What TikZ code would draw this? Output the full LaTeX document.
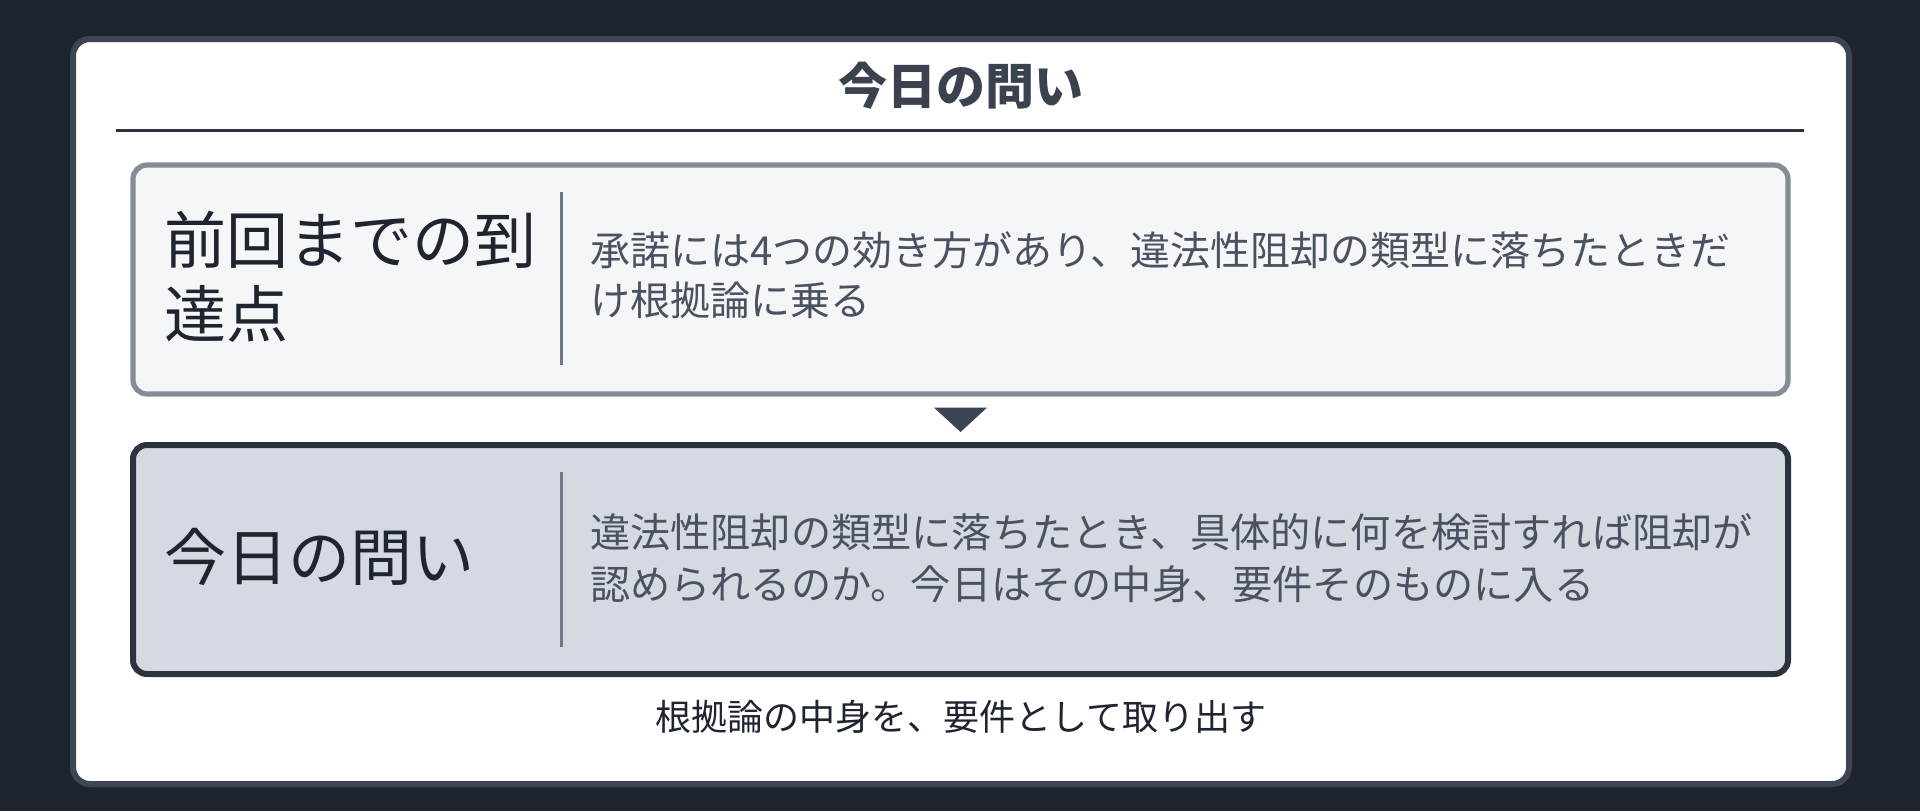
\documentclass[tikz,border=0pt]{standalone}
\usepackage{fontspec}
\setmainfont{Noto Sans CJK JP}
\usetikzlibrary{calc}
\definecolor{bgc}{HTML}{1E242E}
\definecolor{cardborder}{HTML}{3D4554}
\definecolor{rulec}{HTML}{2D3340}
\definecolor{titlec}{HTML}{3A4250}
\definecolor{prevborder}{HTML}{848C99}
\definecolor{prevfill}{HTML}{F5F6F8}
\definecolor{todayborder}{HTML}{2B3341}
\definecolor{todayfill}{HTML}{D5D9E1}
\definecolor{labelc}{HTML}{1E2430}
\definecolor{bodyc}{HTML}{4A5261}
\definecolor{divc}{HTML}{6F7787}
\definecolor{arrowc}{HTML}{3B4452}
\begin{document}
\begin{tikzpicture}[x=0.5pt,y=-0.5pt,
  txt/.style={inner sep=0pt, outer sep=0pt, anchor=base west},
  labeltxt/.style={txt, text=labelc, font=\fontsize{31pt}{37pt}\selectfont},
  bodyone/.style={txt, text=bodyc, font=\fontsize{20pt}{25pt}\selectfont},
  bodytwo/.style={txt, text=bodyc, font=\fontsize{20.1pt}{26pt}\selectfont},
  prevbox/.style={draw=prevborder, fill=prevfill, line width=2.6pt, rounded corners=7pt,
    minimum width=827.5pt, minimum height=114.5pt, inner sep=0pt},
  todaybox/.style={draw=todayborder, fill=todayfill, line width=3pt, rounded corners=7pt,
    minimum width=827.5pt, minimum height=114.5pt, inner sep=0pt},
  divider/.style={draw=divc, line width=1.5pt}
]
% background and bounding box
\fill[bgc] (0,0) rectangle (1920,811);
\path[use as bounding box] (0,0) rectangle (1920,811);
% card
\node[draw=cardborder, fill=white, line width=3pt, rounded corners=8.5pt,
  minimum width=888pt, minimum height=372.5pt, inner sep=0pt] (card) at (961,411.5) {};
% title
\node[inner sep=0pt, anchor=base, text=titlec,
  font=\fontsize{24.5pt}{29pt}\selectfont\bfseries] (title) at (961,104.5) {今日の問い};
\coordinate (ruleL) at (116,130.5);
\coordinate (ruleR) at (1804,130.5);
\draw[rulec, line width=1.5pt] (ruleL) -- (ruleR);
% box 1
\node[prevbox] (prev) at (960.5,279.5) {};
\coordinate (d1t) at (561,192);
\coordinate (d1b) at (561,365);
\draw[divider] (d1t) -- (d1b);
\node[labeltxt] (prevlabA) at (164,263.5) {前回までの到};
\node[labeltxt] (prevlabB) at (164,337.5) {達点};
\node[bodyone] (prevbodyA) at (590,265) {承諾には4つの効き方があり、違法性阻却の類型に落ちたときだ};
\node[bodyone] (prevbodyB) at (590,315) {け根拠論に乗る};
% box 2
\node[todaybox] (today) at (960.5,559.5) {};
\coordinate (d2t) at (561,472);
\coordinate (d2b) at (561,647);
\draw[divider] (d2t) -- (d2b);
\node[labeltxt] (todaylab) at (164,580.5) {今日の問い};
\node[bodytwo] (todaybodyA) at (590,547) {違法性阻却の類型に落ちたとき、具体的に何を検討すれば阻却が};
\node[bodytwo] (todaybodyB) at (590,599) {認められるのか。今日はその中身、要件そのものに入る};
% arrow triangle between boxes
\fill[arrowc] ($(prev.south)+(-26.5,11)$) -- ($(prev.south)+(26.5,11)$) -- ($(today.north)+(0,-10)$) -- cycle;
% footer
\node[inner sep=0pt, anchor=base, text=labelc, font=\fontsize{18pt}{22pt}\selectfont]
  (footer) at (961,730) {根拠論の中身を、要件として取り出す};
\end{tikzpicture}
\end{document}
